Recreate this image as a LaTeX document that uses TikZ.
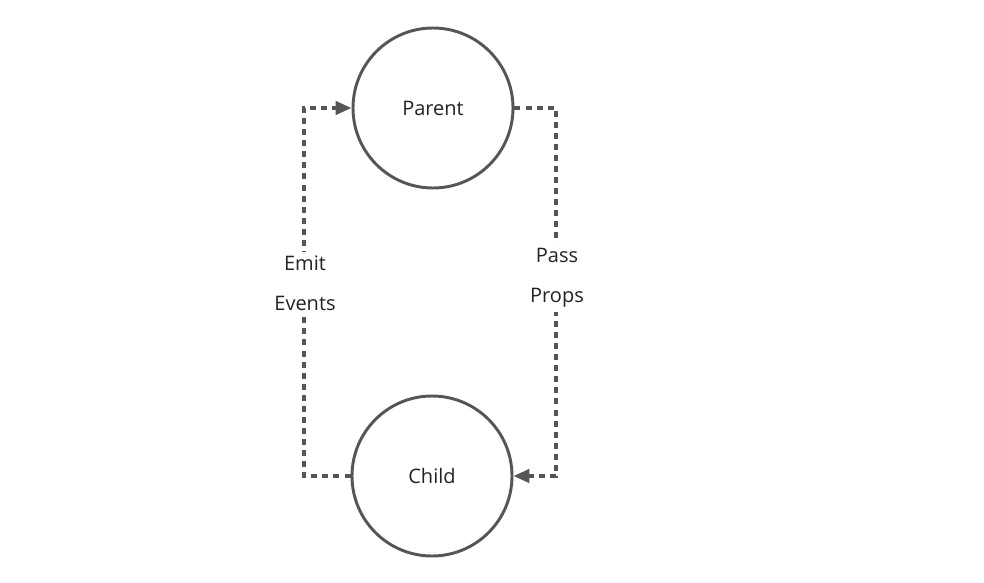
\documentclass[tikz,border=0pt]{standalone}
\usepackage{fontspec}
\setmainfont{Open Sans}
\usetikzlibrary{arrows.meta}
\definecolor{ink}{HTML}{555555}
\definecolor{txt}{HTML}{222222}
\tikzset{
  actor/.style={circle, draw=ink, line width=2.2pt, minimum size=120pt, inner sep=0pt, text=txt},
  flow/.style={draw=ink, line width=2.6pt, dash pattern=on 4.5pt off 3.8pt},
  tag/.style={fill=white, align=center, text=txt, inner sep=3pt}
}
\begin{document}
\begin{tikzpicture}[x=0.75pt, y=-0.75pt, >={Triangle[length=12pt,width=10pt]},
  every node/.style={font=\fontsize{15}{30}\selectfont}]
  \useasboundingbox (0,0) rectangle (984,582);
  \node[actor] (parent) at (433,108) {Parent};
  \node[actor] (child) at (432,476) {Child};
  % left side: child back to parent
  \coordinate (lb) at (304,476);
  \coordinate (lt) at (304,108);
  \draw[flow,->] (child.west) -- (lb) -- (lt) -- (parent.west);
  \node[tag] (emit) at (305,283) {Emit\\Events};
  % right side: parent down to child
  \coordinate (rt) at (556,108);
  \coordinate (rb) at (556,476);
  \draw[flow,->] (parent.east) -- (rt) -- (rb) -- (child.east);
  \node[tag] (pass) at (557,278) {Pass\\Props};
\end{tikzpicture}
\end{document}
